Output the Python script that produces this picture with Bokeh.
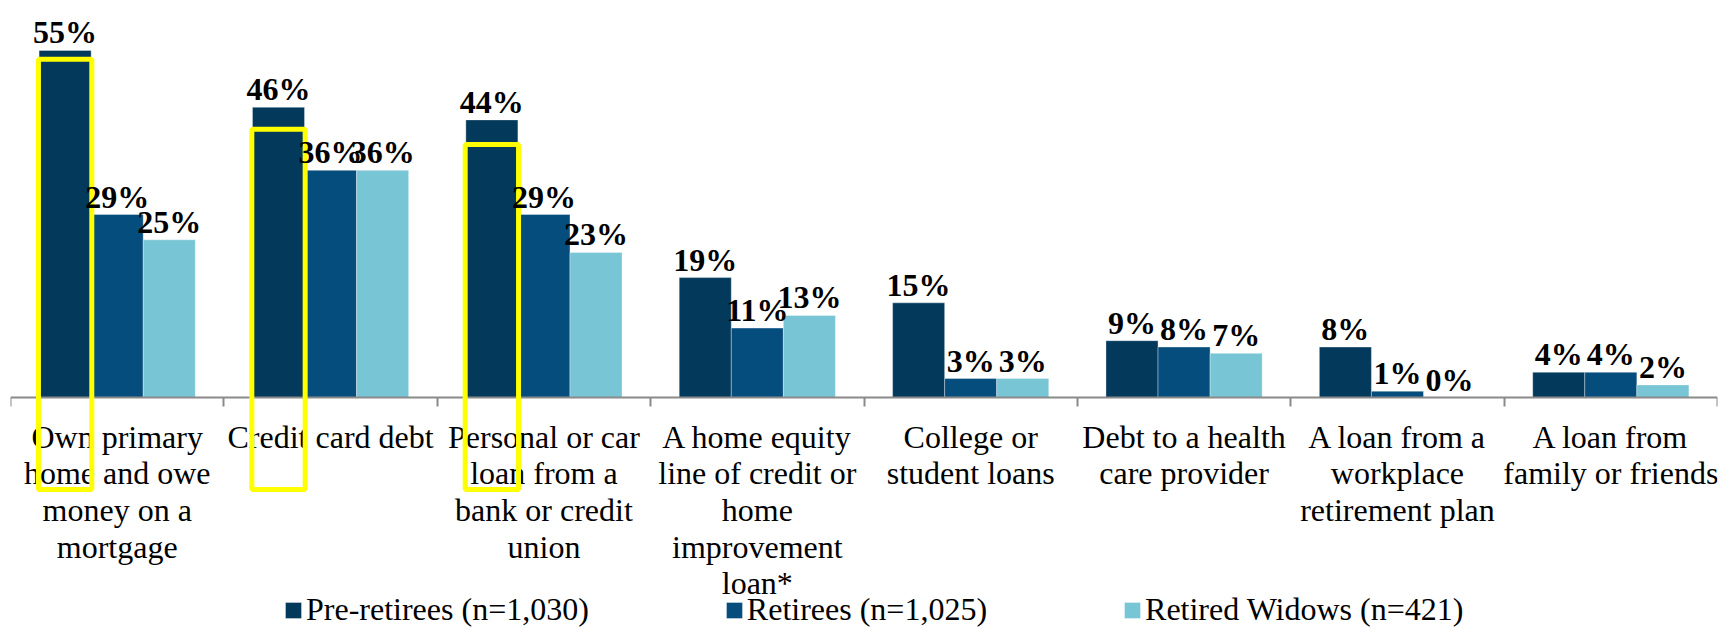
from bokeh.plotting import figure
from bokeh.models import (ColumnDataSource, Range1d, LinearAxis, FixedTicker,
                          Legend, LegendItem)
from bokeh.transform import dodge
from bokeh.core.properties import value
from bokeh.embed import file_html
from bokeh.resources import INLINE

# ---------------- data ----------------
categories = [
    "Own primary\nhome and owe\nmoney on a\nmortgage",
    "Credit card debt",
    "Personal or car\nloan from a\nbank or credit\nunion",
    "A home equity\nline of credit or\nhome\nimprovement\nloan*",
    "College or\nstudent loans",
    "Debt to a health\ncare provider",
    "A loan from a\nworkplace\nretirement plan",
    "A loan from\nfamily or friends",
]
pre_retirees = [55, 46, 44, 19, 15, 9, 8, 4]
retirees = [29, 36, 29, 11, 3, 8, 1, 4]
retired_widows = [25, 36, 23, 13, 3, 7, 0, 2]
series_names = ["Pre-retirees (n=1,030)", "Retirees (n=1,025)", "Retired Widows (n=421)"]
series_colors = ["#03395B", "#044D7D", "#78C5D5"]

# yellow highlight frames (annotation around the pre-retiree bars)
highlight_index = [0, 1, 2]
highlight_tops = [53.6, 42.5, 40.1]
highlight_bottom = -14.6

FONT = "Liberation Serif"
BAR_W = 0.244
N = len(categories)
centers = [i + 0.5 for i in range(N)]

src = ColumnDataSource(dict(
    x=centers,
    pre=pre_retirees, ret=retirees, wid=retired_widows,
    pre_lbl=[f"{v}%" for v in pre_retirees],
    ret_lbl=[f"{v}%" for v in retirees],
    wid_lbl=[f"{v}%" for v in retired_widows],
))
hl = ColumnDataSource(dict(x=[centers[i] for i in highlight_index], top=highlight_tops,
                           bottom=[highlight_bottom] * len(highlight_index)))

p = figure(width=1720, height=628,
           x_range=Range1d(0, N),
           y_range=Range1d(-36.61, 62.92),
           x_axis_location=None, y_axis_location=None,
           output_backend="svg", toolbar_location=None)
p.min_border = 0
p.min_border_left = 10
p.min_border_right = 3
p.outline_line_color = None
p.xgrid.visible = False
p.ygrid.visible = False
p.background_fill_color = "white"

# boundary axis: line + ticks between categories
bound_axis = LinearAxis(ticker=FixedTicker(ticks=list(range(N + 1))),
                        fixed_location=0,
                        axis_line_color="#8A8A8A", axis_line_width=2,
                        major_tick_line_color="#8A8A8A", major_tick_line_width=2,
                        major_tick_in=0, major_tick_out=9,
                        minor_tick_line_color=None,
                        major_label_overrides={i: "" for i in range(N + 1)})
p.add_layout(bound_axis, "below")

# category label axis
cat_axis = LinearAxis(ticker=FixedTicker(ticks=centers, minor_ticks=[]),
                      fixed_location=0,
                      axis_line_color=None, major_tick_line_color=None,
                      minor_tick_line_color=None,
                      major_label_overrides=dict(zip(centers, categories)),
                      major_label_standoff=15,
                      major_label_text_font=FONT,
                      major_label_text_font_size="32px",
                      major_label_text_color="black",
                      major_label_text_line_height=1.02)
p.add_layout(cat_axis, "below")

offsets = [-BAR_W, 0, BAR_W]
fields = ["pre", "ret", "wid"]
renderers = []
for f, off, col in zip(fields, offsets, series_colors):
    r = p.vbar(x=dodge("x", off), top=f, bottom=0, width=BAR_W,
               source=src, fill_color=col, line_color="white", line_alpha=0.35,
               line_width=1)
    renderers.append(r)

# yellow highlight frames
p.vbar(x=dodge("x", -BAR_W), top="top", bottom="bottom",
       width=BAR_W + 0.006, source=hl, fill_color=None, line_color="#FFFF00",
       line_width=5, level="overlay")

for f, off in zip(fields, offsets):
    p.text(x=dodge("x", off), y=f, text=f + "_lbl", source=src,
           text_align="center", text_baseline="alphabetic", y_offset=-18,
           text_font=value(FONT), text_font_style="bold", text_font_size="32px",
           text_color="black", level="overlay")

legend = Legend(items=[LegendItem(label=n, renderers=[r]) for n, r in zip(series_names, renderers)],
                orientation="horizontal", location=(273, 0),
                glyph_width=20, glyph_height=20, label_standoff=3, spacing=135,
                padding=0, margin=0, border_line_color=None, background_fill_alpha=0,
                label_text_font=FONT, label_text_font_size="32px", label_text_color="black",
                label_height=20)
p.add_layout(legend)

open("out.html", "w").write(file_html(p, INLINE))
